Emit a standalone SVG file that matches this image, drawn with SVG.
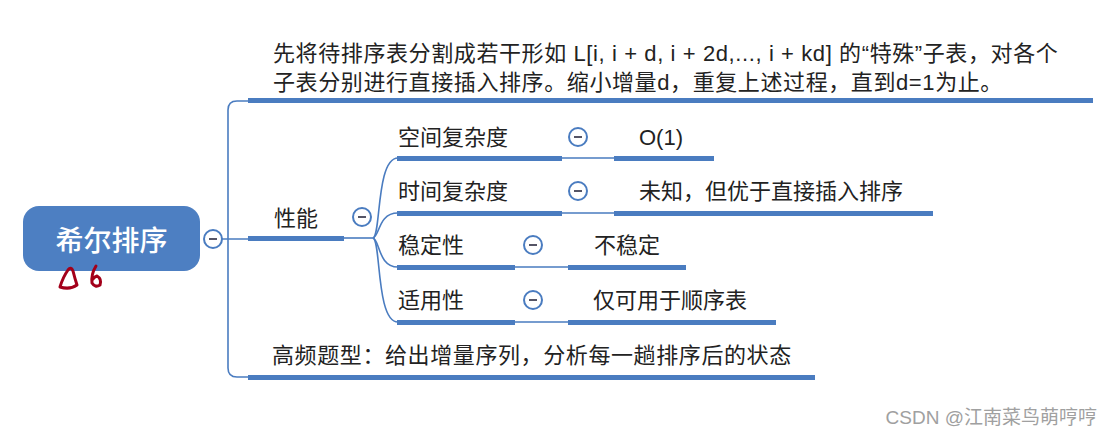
<svg xmlns="http://www.w3.org/2000/svg" width="1112" height="434" viewBox="0 0 1112 434">
<style>
.bar{fill:#4a7cc0}
.ln{fill:none;stroke:#4a7cc0;stroke-width:1.6}
.t{font-family:"Liberation Sans","Noto Sans CJK SC",sans-serif;fill:#222;font-size:22px}
.tm{font-family:"Liberation Sans","Noto Sans CJK SC",sans-serif;fill:#222;font-size:22px;letter-spacing:0.6px}
.c circle{fill:#fff;stroke:#4a7cc0;stroke-width:2}
.c line{stroke:#556;stroke-width:2}
</style>
<defs>
<g id="col" class="c"><circle r="9"/><line x1="-4" y1="0" x2="4" y2="0"/></g>
</defs>
<rect width="1112" height="434" fill="#fff"/>
<g id="connectors">
<path class="ln" d="M222,239 H248 M248,101 H237 Q228,101 228,110 V368 Q228,377 237,377 H248"/>
<path class="ln" d="M344,238 H373"/>
<path class="ln" d="M373,238 C381,236 376,158 398,158"/>
<path class="ln" d="M373,238 C380,236 378,213 398,213"/>
<path class="ln" d="M373,238 C380,240 378,267 398,267"/>
<path class="ln" d="M373,238 C381,240 376,322 398,322"/>
<path class="ln" d="M562,158 H614 M562,213 H614 M515,267 H568 M515,322 H568"/>
</g>
<g id="root">
<rect x="23" y="206" width="177" height="65" rx="16" fill="#4d7fc2"/>
<text x="111.5" y="251" text-anchor="middle" font-family="Noto Sans CJK SC,sans-serif" font-size="28" font-weight="500" fill="#fff">希尔排序</text>
<use href="#col" x="213" y="239"/>
</g>
<g id="desc">
<text class="tm" x="273" y="61">先将待排序表分割成若干形如 L[i, i + d, i + 2d,..., i + kd] 的“特殊”子表，对各个</text>
<text class="tm" x="273" y="90">子表分别进行直接插入排序。缩小增量d，重复上述过程，直到d=1为止。</text>
<rect class="bar" x="248" y="98" width="845" height="5"/>
</g>
<g id="perf">
<text class="t" x="274" y="226">性能</text>
<rect class="bar" x="248" y="236" width="96" height="5"/>
<use href="#col" x="362" y="217"/>
</g>
<g id="space">
<text class="t" x="398" y="145">空间复杂度</text>
<rect class="bar" x="397" y="156" width="165" height="5"/>
<use href="#col" x="578" y="137"/>
</g>
<g id="space-val">
<text class="t" x="639" y="145">O(1)</text>
<rect class="bar" x="614" y="156" width="100" height="5"/>
</g>
<g id="time">
<text class="t" x="398" y="199">时间复杂度</text>
<rect class="bar" x="397" y="211" width="165" height="5"/>
<use href="#col" x="578" y="191"/>
</g>
<g id="time-val">
<text class="t" x="639" y="199">未知，但优于直接插入排序</text>
<rect class="bar" x="614" y="211" width="319" height="5"/>
</g>
<g id="stable">
<text class="t" x="398" y="253">稳定性</text>
<rect class="bar" x="397" y="265" width="118" height="5"/>
<use href="#col" x="533" y="245"/>
</g>
<g id="stable-val">
<text class="t" x="594" y="253">不稳定</text>
<rect class="bar" x="568" y="265" width="118" height="5"/>
</g>
<g id="apply">
<text class="t" x="398" y="308">适用性</text>
<rect class="bar" x="397" y="320" width="118" height="5"/>
<use href="#col" x="533" y="300"/>
</g>
<g id="apply-val">
<text class="t" x="593" y="308">仅可用于顺序表</text>
<rect class="bar" x="568" y="320" width="208" height="5"/>
</g>
<g id="freq">
<text class="tm" x="272" y="363">高频题型：给出增量序列，分析每一趟排序后的状态</text>
<rect class="bar" x="248" y="375" width="567" height="5"/>
</g>
<g id="scribbles" fill="none" stroke="#a3001a" stroke-width="3" stroke-linecap="round" stroke-linejoin="round">
<path d="M60,287 Q63,277 68,270 Q71,266 73,271 Q75,279 77,285 Q70,290 60,287"/>
<path d="M96,266 Q91,274 92,283 Q95,288 100,285 Q102,279 97,276 Q94,277 93,279"/>
</g>
<text x="1097" y="424" text-anchor="end" font-family="Liberation Sans,Noto Sans CJK SC,sans-serif" font-size="19" fill="#a0a0a0">CSDN @江南菜鸟萌哼哼</text>
</svg>
